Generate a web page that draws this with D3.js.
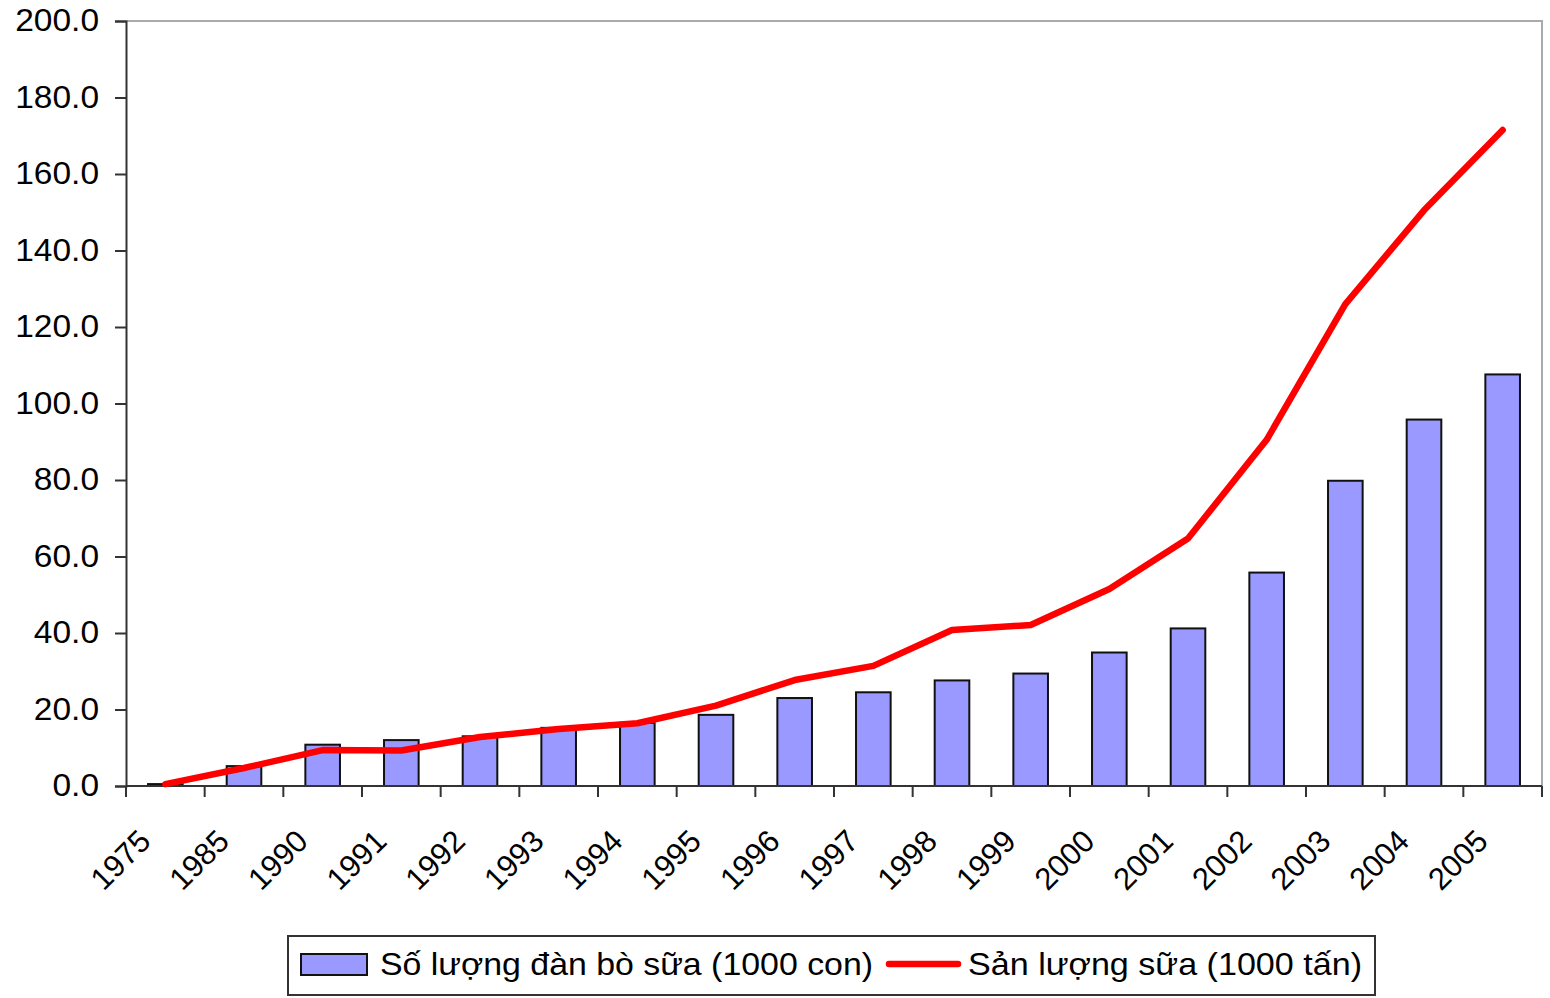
<!DOCTYPE html>
<html>
<head>
<meta charset="utf-8">
<script src="https://cdn.jsdelivr.net/npm/d3@7"></script>
<style>
  body { margin: 0; background: #fff; }
  text { font-family: "Liberation Sans", Arial, sans-serif; fill: #000; }
</style>
</head>
<body>
<svg id="chart" width="1550" height="998"></svg>
<script>
// categories and values
var years = ["1975", "1985", "1990", "1991", "1992", "1993", "1994", "1995", "1996",
	"1997", "1998", "1999", "2000", "2001", "2002", "2003", "2004", "2005"];
var cows = [0.5, 5.2, 10.8, 12.0, 13.0, 15.2, 16.5, 18.6, 23.0,
	24.5, 27.6, 29.4, 34.9, 41.2, 55.8, 79.8, 95.8, 107.6];
var milk = [0.5, 4.7, 9.4, 9.3, 12.8, 14.9, 16.4, 21.0, 27.7,
	31.4, 40.8, 42.1, 51.5, 64.7, 90.5, 126.0, 150.5, 171.5];
var yTicks = [0, 20, 40, 60, 80, 100, 120, 140, 160, 180, 200];
var legendLabels = ["Số lượng đàn bò sữa (1000 con)", "Sản lượng sữa (1000 tấn)"];

var svg = d3.select("#chart");
var mLeft = 126, mRight = 1542, mTop = 21, mBottom = 786;

// widen text a little, the original glyphs run wider than Arial
function stretch(sel, k) {
	sel.each(function() {
		var w = this.getComputedTextLength();
		d3.select(this)
			.attr("textLength", w * k)
			.attr("lengthAdjust", "spacingAndGlyphs");
	});
}

var x = d3.scaleBand()
	.domain(years)
	.range([mLeft, mRight]);

var y = d3.scaleLinear()
	.domain([0, 200])
	.range([mBottom, mTop]);

// plot frame: top and right in light grey
svg.append("path")
	.attr("d", "M" + mLeft + "," + mTop + "H" + mRight + "V" + mBottom)
	.attr("fill", "none")
	.attr("stroke", "#aaa")
	.attr("stroke-width", 2);

// bars
var bw = x.bandwidth() * 0.44;
svg.append("g")
	.selectAll("rect")
	.data(years)
	.enter()
	.append("rect")
	.attr("x", function(d) { return x(d) + x.bandwidth() / 2 - bw / 2; })
	.attr("y", function(d, i) { return y(cows[i]); })
	.attr("width", bw)
	.attr("height", function(d, i) { return mBottom - y(cows[i]); })
	.attr("fill", "#9999ff")
	.attr("stroke", "#111")
	.attr("stroke-width", 2);

// y axis
var yAxis = svg.append("g")
	.attr("transform", "translate(" + mLeft + ",0)")
	.call(d3.axisLeft(y).tickValues(yTicks).tickSize(11).tickPadding(16)
		.tickFormat(d3.format(".1f")));
yAxis.select(".domain").attr("stroke", "#333").attr("stroke-width", 2);
yAxis.selectAll(".tick line").attr("stroke", "#333").attr("stroke-width", 2);
yAxis.selectAll("text")
	.style("font-size", "31px")
	.call(stretch, 1.08);

// x axis, ticks on category boundaries
var xAxis = svg.append("g")
	.attr("transform", "translate(0," + mBottom + ")")
	.call(d3.axisBottom(x).tickSize(0).tickPadding(0));
xAxis.select(".domain").remove();
xAxis.append("path")
	.attr("d", "M" + mLeft + ",0H" + mRight)
	.attr("stroke", "#333")
	.attr("stroke-width", 2);
xAxis.selectAll(".bnd")
	.data(years.concat(["end"]))
	.enter()
	.append("line")
	.attr("x1", function(d) { return d === "end" ? mRight : x(d); })
	.attr("x2", function(d) { return d === "end" ? mRight : x(d); })
	.attr("y1", 0)
	.attr("y2", 11)
	.attr("stroke", "#333")
	.attr("stroke-width", 2);
xAxis.selectAll(".tick text")
	.style("font-size", "31px")
	.attr("text-anchor", "end")
	.attr("dy", null)
	.attr("transform", "translate(-13,57) rotate(-45)");

// line
var line = d3.line()
	.x(function(d, i) { return x(years[i]) + x.bandwidth() / 2; })
	.y(function(d) { return y(d); });

svg.append("path")
	.datum(milk)
	.attr("d", line)
	.attr("fill", "none")
	.attr("stroke", "#ff0000")
	.attr("stroke-width", 6.5)
	.attr("stroke-linecap", "round")
	.attr("stroke-linejoin", "round");

// legend
var legend = svg.append("g");
legend.append("rect")
	.attr("x", 288).attr("y", 936)
	.attr("width", 1087).attr("height", 59)
	.attr("fill", "#fff")
	.attr("stroke", "#333")
	.attr("stroke-width", 2);
legend.append("rect")
	.attr("x", 301).attr("y", 954)
	.attr("width", 66).attr("height", 21)
	.attr("fill", "#9999ff")
	.attr("stroke", "#111")
	.attr("stroke-width", 2);
legend.append("text")
	.attr("x", 380).attr("y", 975)
	.style("font-size", "32px")
	.attr("textLength", 493)
	.attr("lengthAdjust", "spacingAndGlyphs")
	.text(legendLabels[0]);
legend.append("line")
	.attr("x1", 889).attr("x2", 958)
	.attr("y1", 964).attr("y2", 964)
	.attr("stroke", "#ff0000")
	.attr("stroke-width", 6.5)
	.attr("stroke-linecap", "round");
legend.append("text")
	.attr("x", 968).attr("y", 975)
	.style("font-size", "32px")
	.attr("textLength", 394)
	.attr("lengthAdjust", "spacingAndGlyphs")
	.text(legendLabels[1]);
</script>
</body>
</html>
